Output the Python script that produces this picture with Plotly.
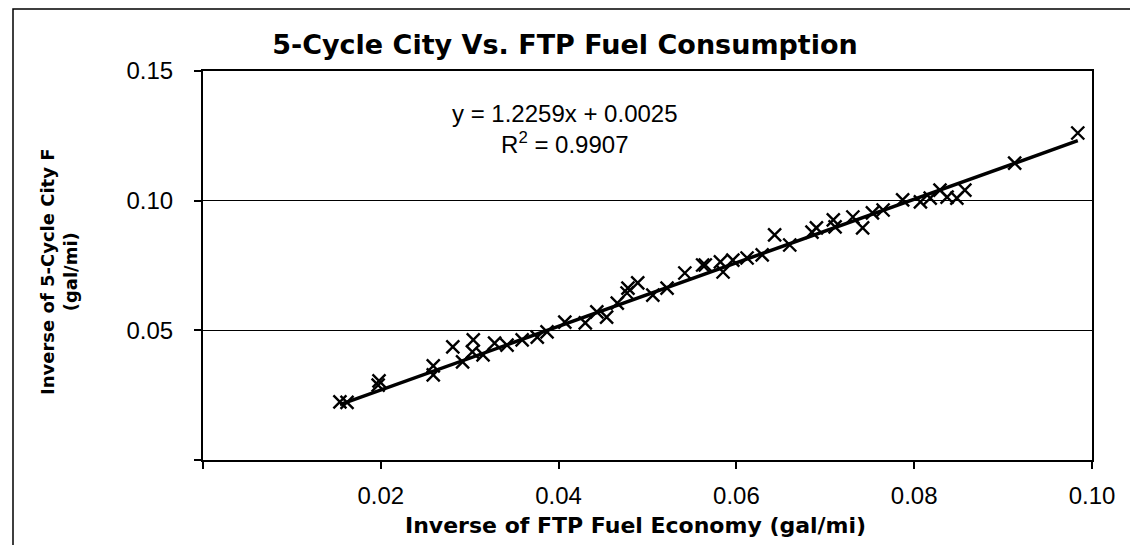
import plotly.graph_objects as go

# inverse FTP fuel economy vs inverse 5-cycle city fuel economy (gal/mi)
FTP_X = [
    0.0154, 0.0162, 0.0197, 0.0198, 0.0259, 0.0259, 0.0281, 0.0292, 0.0303, 0.0304,
    0.0315, 0.0328, 0.0342, 0.0359, 0.0376, 0.0387, 0.0407, 0.0430, 0.0443, 0.0454,
    0.0466, 0.0477, 0.0478, 0.0489, 0.0506, 0.0522, 0.0542, 0.0562, 0.0565, 0.0582,
    0.0585, 0.0596, 0.0612, 0.0629, 0.0643, 0.0660, 0.0685, 0.0690, 0.0709, 0.0711,
    0.0731, 0.0742, 0.0753, 0.0765, 0.0787, 0.0807, 0.0818, 0.0829, 0.0837, 0.0848,
    0.0857, 0.0913, 0.0984,
]
CITY_Y = [
    0.0224, 0.0222, 0.0289, 0.0305, 0.0363, 0.0328, 0.0436, 0.0378, 0.0417, 0.0463,
    0.0405, 0.0451, 0.0443, 0.0463, 0.0474, 0.0494, 0.0532, 0.0529, 0.0571, 0.0551,
    0.0605, 0.0644, 0.0663, 0.0683, 0.0636, 0.0663, 0.0721, 0.0752, 0.0752, 0.0764,
    0.0725, 0.0771, 0.0779, 0.0791, 0.0868, 0.0829, 0.0879, 0.0895, 0.0926, 0.0899,
    0.0937, 0.0895, 0.0953, 0.0964, 0.1003, 0.0995, 0.1010, 0.1041, 0.1014, 0.1010,
    0.1041, 0.1145, 0.1261,
]

SLOPE = 1.2259
INTERCEPT = 0.0025
R2 = 0.9907

X_TICKS = [0, 0.02, 0.04, 0.06, 0.08, 0.10]
X_TICK_TEXT = ["", "0.02", "0.04", "0.06", "0.08", "0.10"]
Y_TICKS = [0, 0.05, 0.10, 0.15]
Y_TICK_TEXT = ["", "0.05", "0.10", "0.15"]

FONT = "Liberation Sans, Arial, sans-serif"
BOLD_FONT = "DejaVu Sans, Arial, sans-serif"

fit_x = [min(FTP_X), max(FTP_X)]
fit_y = [SLOPE * v + INTERCEPT for v in fit_x]

fig = go.Figure()
fig.add_trace(
    go.Scatter(
        x=FTP_X,
        y=CITY_Y,
        mode="markers",
        marker=dict(symbol="x-thin-open", size=13, color="black",
                    line=dict(color="black", width=2.4)),
        showlegend=False,
        hoverinfo="x+y",
    )
)
fig.add_trace(
    go.Scatter(
        x=fit_x,
        y=fit_y,
        mode="lines",
        line=dict(color="black", width=3.5),
        showlegend=False,
        hoverinfo="skip",
    )
)

axis_common = dict(
    showline=True,
    linecolor="black",
    linewidth=2,
    mirror=True,
    ticks="outside",
    ticklen=7,
    tickcolor="black",
    tickwidth=1.5,
    zeroline=False,
    tickfont=dict(family=FONT, size=24, color="black"),
)

fig.update_xaxes(
    range=[0, 0.10],
    tickvals=X_TICKS,
    ticktext=X_TICK_TEXT,
    showgrid=False,
    ticklabelstandoff=6,
    **axis_common,
)
fig.update_yaxes(
    range=[0, 0.15],
    tickvals=Y_TICKS,
    ticktext=Y_TICK_TEXT,
    showgrid=True,
    gridcolor="black",
    gridwidth=1,
    ticklabelstandoff=16,
    **axis_common,
)

# axis titles placed as annotations to match the original spacing
fig.add_annotation(
    text="<b>Inverse of FTP Fuel Economy (gal/mi)</b>",
    xref="paper", yref="paper",
    x=(635 - 203) / 889, y=(460 - 525) / 389,
    xanchor="center", yanchor="middle",
    showarrow=False,
    font=dict(family=BOLD_FONT, size=22, color="black"),
)
fig.add_annotation(
    text="<b>Inverse of 5-Cycle City F</b><br><b>(gal/mi)</b>",
    xref="paper", yref="paper",
    x=(59 - 203) / 889, y=(460 - 272) / 389,
    xanchor="center", yanchor="middle",
    textangle=-90,
    showarrow=False,
    font=dict(family=BOLD_FONT, size=18, color="black"),
)
fig.add_annotation(
    text=f"y = {SLOPE}x + {INTERCEPT}<br>R<sup>2</sup> = {R2}",
    xref="paper", yref="paper",
    x=(565 - 203) / 889, y=(460 - 129) / 389,
    xanchor="center", yanchor="middle",
    showarrow=False,
    align="center",
    font=dict(family=FONT, size=24, color="black"),
)

# outer chart frame
fig.add_shape(
    type="rect",
    xref="paper", yref="paper",
    x0=(13 - 203) / 889, x1=(1133 - 203) / 889,
    y0=-0.25, y1=(460 - 9) / 389,
    line=dict(color="black", width=1.5),
    fillcolor="rgba(0,0,0,0)",
    layer="below",
)

# page body adds an 8px offset, so the figure is sized to sit inside the window
fig.update_layout(
    width=1130,
    height=537,
    margin=dict(l=195, r=46, t=63, b=85),
    paper_bgcolor="white",
    plot_bgcolor="white",
    title=dict(
        text="<b>5-Cycle City Vs. FTP Fuel Consumption</b>",
        font=dict(family=BOLD_FONT, size=27, color="black"),
        xref="paper",
        x=(565 - 203) / 889,
        xanchor="center",
        yref="container",
        y=1 - 37 / 537,
        yanchor="middle",
    ),
)

fig.write_html("out.html")
